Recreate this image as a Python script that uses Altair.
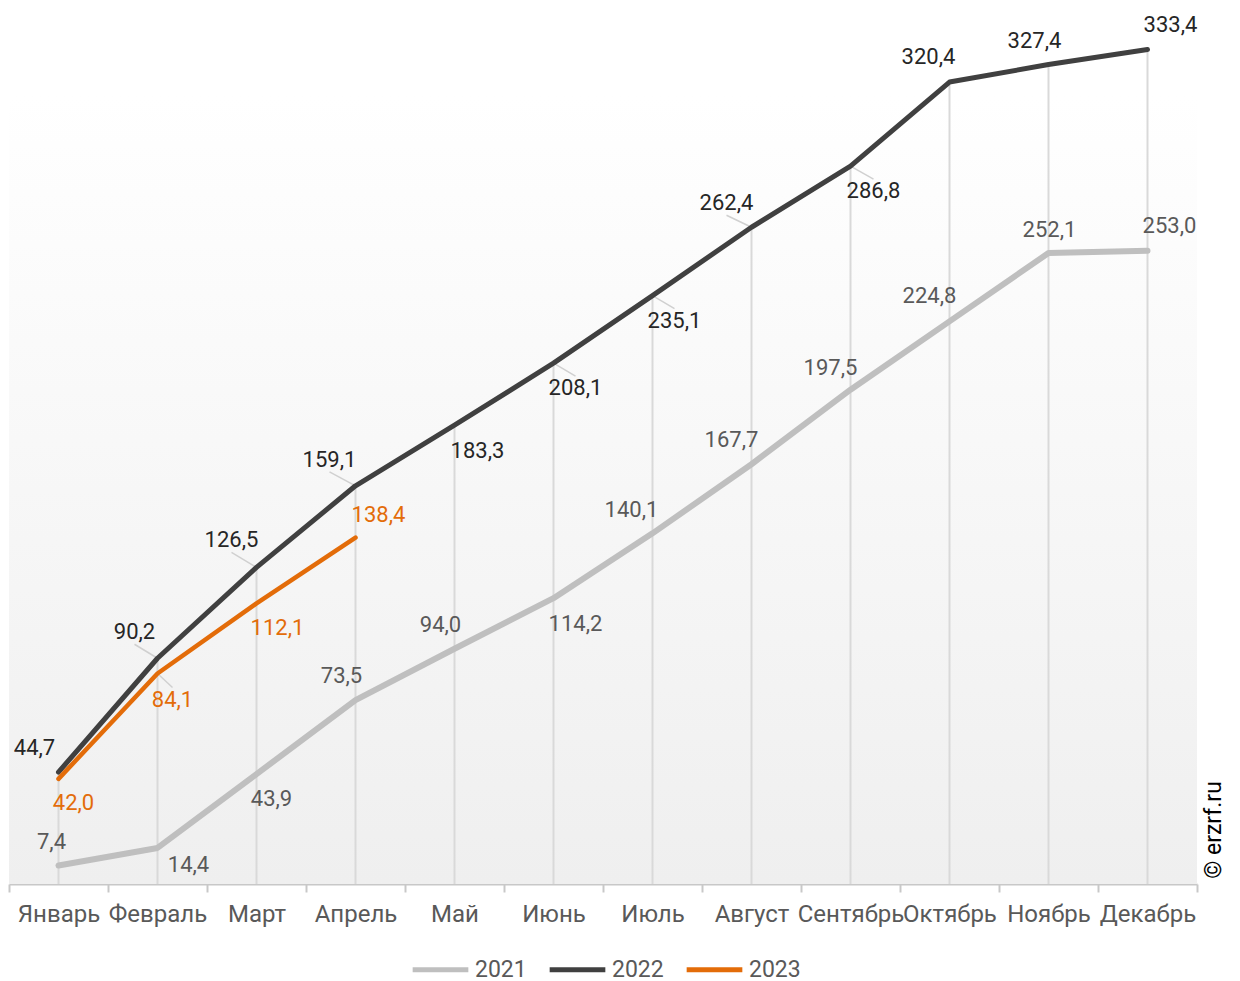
import altair as alt
import pandas as pd

months = ["Январь", "Февраль", "Март", "Апрель", "Май", "Июнь", "Июль",
          "Август", "Сентябрь", "Октябрь", "Ноябрь", "Декабрь"]
years = ["2021", "2022", "2023"]
v2021 = [7.4, 14.4, 43.9, 73.5, 94.0, 114.2, 140.1, 167.7, 197.5, 224.8, 252.1, 253.0]
v2022 = [44.7, 90.2, 126.5, 159.1, 183.3, 208.1, 235.1, 262.4, 286.8, 320.4, 327.4, 333.4]
v2023 = [42.0, 84.1, 112.1, 138.4]

# label placement (pixel offsets from point) and leader-line flags, style only
off2021 = [(-7, -23), (31, 17), (15, 25), (-14, -24), (-14, -24), (22, 26),
           (-21, -23), (-20, -24), (-20, -22), (-20, -25), (1, -23), (22, -25)]
off2022 = [(-24, -24), (-23, -26), (-25, -27), (-26, -26), (23, 26), (22, 25),
           (22, 25), (-25, -24), (23, 25), (-21, -25), (-14, -24), (23, -25)]
off2023 = [(15, 24), (15, 26), (21, 25), (23, -23)]
lead2021 = [0] * 12
lead2022 = [0, 1, 1, 1, 0, 1, 1, 1, 1, 0, 0, 0]
lead2023 = [0, 1, 0, 0]

colors = {"2021": "#bfbfbf", "2022": "#404040", "2023": "#e36c09"}
label_colors = {"2021": "#595959", "2022": "#262626", "2023": "#e36c09"}
widths = {"2021": 6, "2022": 5, "2023": 4.5}

W, H = 1188, 876
FONT = "Roboto"

rows = []
for yr, vals, offs, leads in [("2021", v2021, off2021, lead2021),
                              ("2022", v2022, off2022, lead2022),
                              ("2023", v2023, off2023, lead2023)]:
    for m, v, (dx, dy), ld in zip(months, vals, offs, leads):
        rows.append({"month": m, "year": yr, "value": v,
                     "label": f"{v:.1f}".replace(".", ","),
                     "dx": dx, "dy": dy, "sw": widths[yr], "lead": ld,
                     "lx": dx, "ly": dy + (12 if dy < 0 else -12)})
df = pd.DataFrame(rows)

drop = pd.DataFrame({"month": months, "top": v2022, "zero": [0] * 12})

xenc = alt.X("month:N", sort=months,
             scale=alt.Scale(type="band", paddingInner=0, paddingOuter=0),
             axis=alt.Axis(title=None, tickBand="extent", labelOverlap=False,
                           labelAngle=0, labelFontSize=24, labelColor="#595959",
                           labelFont=FONT, domainColor="#c8c8c8", tickColor="#c8c8c8",
                           tickSize=8, domainWidth=2, tickWidth=2, labelPadding=10, grid=False))
yscale = alt.Scale(domain=[0, 350], nice=False, zero=True)

bg = alt.Chart(alt.Data(values=[{}])).mark_rect(
    color=alt.LinearGradient(gradient="linear", x1=0, y1=0, x2=0, y2=1,
                             stops=[alt.GradientStop(offset=0, color="#ffffff"),
                                    alt.GradientStop(offset=0.1, color="#ffffff"),
                                    alt.GradientStop(offset=1, color="#efefef")])
).encode(x=alt.value(0), x2=alt.value(W), y=alt.value(0), y2=alt.value(H))

rules = alt.Chart(drop).mark_rule(color="#d9d9d9", strokeWidth=2).encode(
    x=xenc,
    y=alt.Y("zero:Q", scale=yscale, axis=None),
    y2="top:Q",
)

leaders = alt.Chart(df[df.lead == 1]).mark_rule(
    color="#d0d0d0", strokeWidth=1.5,
    x2Offset=alt.expr("datum.lx"), y2Offset=alt.expr("datum.ly"),
).encode(
    x=xenc,
    x2="month:N",
    y=alt.Y("value:Q", scale=yscale, axis=None),
    y2="value:Q",
)

lines = alt.Chart(df).mark_line(strokeCap="round", strokeJoin="round").encode(
    x=xenc,
    y=alt.Y("value:Q", scale=yscale, axis=None),
    color=alt.Color("year:N", scale=alt.Scale(domain=years, range=[colors[y] for y in years]),
                    legend=alt.Legend(title=None, orient="none", direction="horizontal",
                                      legendX=401, legendY=931,
                                      symbolType="stroke", symbolSize=3100, symbolStrokeWidth=5,
                                      labelFontSize=23, labelFont=FONT, labelColor="#595959",
                                      labelOffset=4, columnPadding=12)),
    strokeWidth=alt.StrokeWidth("sw:Q", scale=None, legend=None),
    detail="year:N",
)

texts = []
for yr in years:
    t = alt.Chart(df[df.year == yr]).mark_text(
        fontSize=22, font=FONT, color=label_colors[yr], align="center", baseline="middle",
        dx=alt.expr("datum.dx"), dy=alt.expr("datum.dy"),
    ).encode(
        x=xenc,
        y=alt.Y("value:Q", scale=yscale, axis=None),
        text="label:N",
    )
    texts.append(t)

wm = alt.Chart(alt.Data(values=[{"t": "© erzrf.ru"}])).mark_text(
    fontSize=23, font=FONT, color="#000000", angle=270, align="center", baseline="middle"
).encode(x=alt.value(W + 17), y=alt.value(822), text="t:N")

chart = alt.layer(bg, rules, leaders, lines, *texts, wm).properties(
    width=W, height=H, padding=0
).configure_view(stroke=None)

chart.save("out.html", embed_options={"renderer": "svg", "actions": False})
